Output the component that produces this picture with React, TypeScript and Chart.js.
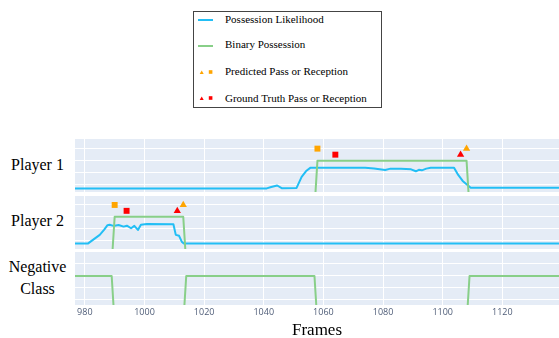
import React, { useEffect, useRef } from "react";
import { Chart, registerables } from "chart.js";

Chart.register(...registerables);

// ---------------- data ----------------
const frameTicks = [980, 1000, 1020, 1040, 1060, 1080, 1100, 1120];
const levelTicks = [0, 0.5, 1, 1.5];

const player1Frames = [976, 1041, 1042.5, 1044.5, 1046, 1051, 1052.7, 1054.2, 1055.7, 1074, 1077, 1080.7, 1082.5, 1086, 1089.4, 1091, 1092, 1093, 1094.5, 1096, 1103.8, 1105.2, 1106.7, 1108, 1109.4, 1139];
const player1Likelihood = [-0.15, -0.15, -0.09, -0.03, -0.14, -0.13, 0.33, 0.57, 0.71, 0.71, 0.68, 0.61, 0.67, 0.66, 0.64, 0.56, 0.62, 0.6, 0.67, 0.71, 0.71, 0.41, 0.16, 0.02, -0.12, -0.12];

const player2Frames = [976, 981, 985, 986.5, 987.6, 988.3, 989.6, 991.3, 993, 994.1, 995.5, 996.6, 997.8, 998.8, 1000.8, 1009.7, 1010.5, 1011.6, 1012.5, 1013.2, 1139];
const player2Likelihood = [-0.14, -0.14, 0.23, 0.45, 0.64, 0.66, 0.61, 0.65, 0.58, 0.62, 0.51, 0.61, 0.44, 0.66, 0.69, 0.68, 0.23, 0.19, -0.06, -0.14, -0.14];

// binary possession: 1 = possession, -1 = none (drawn below the visible band)
const player1BinaryFrames = [976, 1057, 1058, 1108, 1109, 1139];
const player1Binary = [-1, -1, 1, 1, -1, -1];
const player2BinaryFrames = [976, 989, 990, 1013, 1014, 1139];
const player2Binary = [-1, -1, 1, 1, -1, -1];
const negativeBinaryFrames = [976, 989, 990, 1013, 1014, 1057, 1058, 1108, 1109, 1139];
const negativeBinary = [1, 1, -1, -1, 1, 1, -1, -1, 1, 1];

// events: [reception, pass]
const eventShapes = ["rect", "triangle"];
const player1PredictedEvents = [1058, 1108];
const player1TruthEvents = [1064, 1106];
const player2PredictedEvents = [990, 1013];
const player2TruthEvents = [994, 1011];
const predictedLevel = 1.5;
const truthLevel = 1.25;

// ---------------- styles ----------------
const BLUE = "#22BEF5";
const GREEN = "#88CF88";
const ORANGE = "#FFA500";
const RED = "#FF0000";
const BG = "#E5ECF6";
const SERIF = "'Liberation Serif', 'Times New Roman', serif";

const PLOT_LEFT = 75;
const PLOT_W = 484;
const X_AXIS_H = 20;
const FRAME_MIN = 976.7;
const FRAME_MAX = 1139;

type PanelSpec = {
  top: number;
  height: number;
  yMin: number;
  yMax: number;
  showX: boolean;
  likelihoodFrames?: number[];
  likelihood?: number[];
  binaryFrames: number[];
  binary: number[];
  predicted?: number[];
  truth?: number[];
};

const panels: PanelSpec[] = [
  {
    top: 139, height: 53, yMin: -0.3, yMax: 1.9, showX: false,
    likelihoodFrames: player1Frames, likelihood: player1Likelihood,
    binaryFrames: player1BinaryFrames, binary: player1Binary,
    predicted: player1PredictedEvents, truth: player1TruthEvents,
  },
  {
    top: 196, height: 53, yMin: -0.37, yMax: 1.88, showX: false,
    likelihoodFrames: player2Frames, likelihood: player2Likelihood,
    binaryFrames: player2BinaryFrames, binary: player2Binary,
    predicted: player2PredictedEvents, truth: player2TruthEvents,
  },
  {
    top: 252, height: 53, yMin: -0.21, yMax: 2.0, showX: true,
    binaryFrames: negativeBinaryFrames, binary: negativeBinary,
  },
];

const panelBackground = {
  id: "panelBackground",
  beforeDraw(chart: any) {
    const { ctx, chartArea: a } = chart;
    ctx.save();
    ctx.fillStyle = BG;
    ctx.fillRect(a.left, a.top, a.right - a.left, a.bottom - a.top);
    ctx.restore();
  },
};

function lineSet(label: string, frames: number[], values: number[], color: string) {
  return {
    type: "line",
    label,
    data: frames.map((f, i) => ({ x: f, y: values[i] })),
    borderColor: color,
    backgroundColor: color,
    borderWidth: 2,
    borderJoinStyle: "round",
    pointRadius: 0,
    tension: 0,
    fill: false,
  };
}

function markerSet(label: string, frames: number[], level: number, color: string) {
  return {
    type: "line",
    label,
    data: frames.map((f) => ({ x: f, y: level })),
    showLine: false,
    pointStyle: eventShapes,
    pointRadius: 4.2,
    pointBackgroundColor: color,
    pointBorderWidth: 0,
    borderWidth: 0,
    backgroundColor: color,
    borderColor: color,
  };
}

function PanelChart({ spec }: { spec: PanelSpec }) {
  const ref = useRef<HTMLCanvasElement>(null);
  useEffect(() => {
    const canvas = ref.current;
    if (!canvas) return;
    const datasets: any[] = [];
    if (spec.predicted) datasets.push(markerSet("Predicted Pass or Reception", spec.predicted, predictedLevel, ORANGE));
    if (spec.truth) datasets.push(markerSet("Ground Truth Pass or Reception", spec.truth, truthLevel, RED));
    datasets.push(lineSet("Binary Possession", spec.binaryFrames, spec.binary, GREEN));
    if (spec.likelihood && spec.likelihoodFrames)
      datasets.push(lineSet("Possession Likelihood", spec.likelihoodFrames, spec.likelihood, BLUE));

    const chart = new Chart(canvas, {
      type: "line",
      data: { datasets },
      options: {
        animation: false,
        responsive: false,
        devicePixelRatio: 1,
        events: [],
        layout: { padding: 0, autoPadding: false },
        plugins: { legend: { display: false }, tooltip: { enabled: false }, title: { display: false } },
        scales: {
          x: {
            type: "linear",
            min: FRAME_MIN,
            max: FRAME_MAX,
            afterBuildTicks: (s: any) => { s.ticks = frameTicks.map((v) => ({ value: v })); },
            afterFit: (s: any) => { s.height = spec.showX ? X_AXIS_H : 0; },
            ticks: {
              display: spec.showX,
              autoSkip: false,
              maxRotation: 0,
              minRotation: 0,
              padding: 2,
              color: "#4f5d78",
              font: { family: "'Open Sans', sans-serif", size: 9 },
              callback: (v: any) => String(v),
            },
            grid: { drawTicks: false, lineWidth: 1, color: "#ffffff" },
            border: { display: false },
          },
          y: {
            type: "linear",
            min: spec.yMin,
            max: spec.yMax,
            afterBuildTicks: (s: any) => { s.ticks = levelTicks.map((v) => ({ value: v })); },
            afterFit: (s: any) => { s.width = 0; },
            ticks: { display: false },
            grid: { drawTicks: false, lineWidth: 1, color: "#ffffff" },
            border: { display: false },
          },
        },
      } as any,
      plugins: [panelBackground],
    } as any);
    return () => chart.destroy();
  }, [spec]);

  return (
    <canvas
      ref={ref}
      width={PLOT_W}
      height={spec.height + (spec.showX ? X_AXIS_H : 0)}
      style={{ position: "absolute", left: PLOT_LEFT, top: spec.top, display: "block" }}
    />
  );
}

function SideLabel({ text, top, size = 16 }: { text: string; top: number; size?: number }) {
  return (
    <div
      style={{
        position: "absolute", left: 0, top, width: 75, textAlign: "center",
        fontFamily: SERIF, fontSize: size, lineHeight: 1, color: "#000", whiteSpace: "nowrap",
      }}
    >
      {text}
    </div>
  );
}

function LegendText({ text, top }: { text: string; top: number }) {
  return (
    <div style={{ position: "absolute", left: 225, top, fontFamily: SERIF, fontSize: 11, lineHeight: 1, color: "#000", whiteSpace: "nowrap" }}>
      {text}
    </div>
  );
}

function LegendMarkers({ color, cy }: { color: string; cy: number }) {
  return (
    <svg width={20} height={8} style={{ position: "absolute", left: 197, top: cy - 4 }}>
      <polygon points="2.7,6 6.7,6 4.7,2.4" fill={color} />
      <rect x={11.8} y={2.2} width={3.6} height={3.6} fill={color} />
    </svg>
  );
}

export default function App() {
  return (
    <div style={{ position: "absolute", left: 0, top: 0, width: 559, height: 338, background: "#fff", overflow: "hidden" }}>
      {panels.map((p, i) => (
        <PanelChart key={i} spec={p} />
      ))}

      <SideLabel text="Player 1" top={157.3} />
      <SideLabel text="Player 2" top={213.1} />
      <SideLabel text="Negative" top={258.9} />
      <SideLabel text="Class" top={280.6} />

      <div
        style={{
          position: "absolute", left: PLOT_LEFT, width: PLOT_W, top: 320.8, textAlign: "center",
          fontFamily: SERIF, fontSize: 17, lineHeight: 1, color: "#000",
        }}
      >
        Frames
      </div>

      {/* legend */}
      <div style={{ position: "absolute", left: 193, top: 11, width: 189, height: 97, boxSizing: "border-box", border: "1px solid #444", background: "#fff" }} />
      <div style={{ position: "absolute", left: 198, top: 19, width: 15, height: 2, background: BLUE }} />
      <LegendText text="Possession Likelihood" top={13.5} />
      <div style={{ position: "absolute", left: 198, top: 44.7, width: 15, height: 2, background: GREEN }} />
      <LegendText text="Binary Possession" top={39.1} />
      <LegendMarkers color={ORANGE} cy={71.7} />
      <LegendText text="Predicted Pass or Reception" top={65.8} />
      <LegendMarkers color={RED} cy={98.3} />
      <LegendText text="Ground Truth Pass or Reception" top={92.5} />
    </div>
  );
}
